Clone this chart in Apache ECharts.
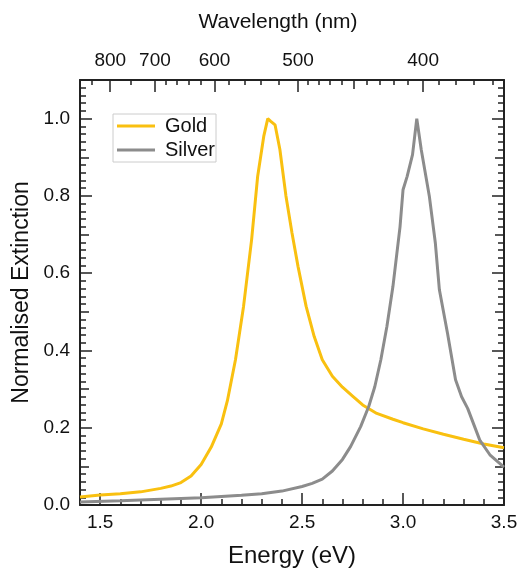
<!DOCTYPE html>
<html>
<head>
<meta charset="utf-8">
<script src="https://cdn.jsdelivr.net/npm/echarts@6/dist/echarts.min.js"></script>
<style>
  html, body { margin: 0; padding: 0; background: #fff; }
  #chart { width: 519px; height: 571px; }
</style>
</head>
<body>
<div id="chart"></div>
<script>
// values
const goldEnergy = [1.40, 1.50, 1.60, 1.70, 1.80, 1.85, 1.90, 1.95, 2.00, 2.05, 2.10, 2.13, 2.17, 2.21, 2.25, 2.28, 2.31, 2.33, 2.345, 2.366, 2.39, 2.42, 2.45, 2.48, 2.52, 2.56, 2.60, 2.65, 2.70, 2.75, 2.80, 2.87, 2.95, 3.00, 3.10, 3.20, 3.30, 3.40, 3.50];
const goldValue = [0.021, 0.026, 0.029, 0.034, 0.043, 0.049, 0.058, 0.075, 0.105, 0.15, 0.21, 0.27, 0.376, 0.514, 0.687, 0.851, 0.954, 1.0, 0.993, 0.984, 0.92, 0.80, 0.704, 0.617, 0.514, 0.436, 0.376, 0.333, 0.305, 0.282, 0.259, 0.237, 0.222, 0.213, 0.197, 0.183, 0.170, 0.158, 0.148];

const silverEnergy = [1.40, 1.60, 1.80, 2.00, 2.20, 2.30, 2.40, 2.50, 2.55, 2.60, 2.65, 2.70, 2.74, 2.79, 2.83, 2.86, 2.89, 2.92, 2.95, 2.985, 3.00, 3.02, 3.047, 3.068, 3.09, 3.13, 3.16, 3.18, 3.22, 3.26, 3.29, 3.32, 3.38, 3.43, 3.50];
const silverValue = [0.008, 0.011, 0.015, 0.019, 0.025, 0.029, 0.036, 0.048, 0.056, 0.067, 0.088, 0.118, 0.151, 0.203, 0.255, 0.306, 0.376, 0.462, 0.566, 0.72, 0.816, 0.85, 0.907, 1.0, 0.92, 0.80, 0.678, 0.557, 0.445, 0.324, 0.28, 0.25, 0.168, 0.13, 0.098];

// tick labels
const energyTicks = [1.5, 2.0, 2.5, 3.0, 3.5];
const energyMinorTicks = [1.4, 1.5, 1.6, 1.7, 1.8, 1.9, 2.0, 2.1, 2.2, 2.3, 2.4, 2.5, 2.6, 2.7, 2.8, 2.9, 3.0, 3.1, 3.2, 3.3, 3.4, 3.5];
const wavelengthTicks = [800, 700, 600, 500, 400];
const wavelengthMedium = [450];
const wavelengthMinor = [850, 750, 680, 660, 640, 620, 580, 560, 540, 520, 490, 480, 470, 460, 440, 430, 420, 410, 390, 380, 370, 360];
const extinctionTicks = [0, 0.2, 0.4, 0.6, 0.8, 1.0];
const extinctionMedium = [0.1, 0.3, 0.5, 0.7, 0.9];

const HC = 1239.84; // eV*nm
const toEnergy = nm => HC / nm;
const extinctionMinor = [];
for (let i = 0; i <= 55; i++) extinctionMinor.push(Math.round(i * 2) / 100);

const FONT = 'Liberation Sans';
const AXIS_COLOR = '#222';
const X_MIN = 1.4, X_MAX = 3.5, Y_MIN = 0, Y_MAX = 1.1;

function ticks(values, len) {
  return { show: true, inside: true, length: len, customValues: values, lineStyle: { color: AXIS_COLOR, width: 1.5 } };
}

// extra axis that only adds a row of ticks of another length
function tickOnly(position, values, len, min, max) {
  return {
    type: 'value', position: position, min: min, max: max,
    axisLine: { show: false, onZero: false },
    axisLabel: { show: false },
    splitLine: { show: false },
    axisTick: ticks(values, len)
  };
}

const chart = echarts.init(document.getElementById('chart'));
chart.setOption({
  animation: false,
  backgroundColor: '#fff',
  textStyle: { fontFamily: FONT },
  grid: { left: 80, right: 15, top: 80, bottom: 66, outerBoundsMode: 'none' },
  legend: {
    left: 113, top: 114, orient: 'vertical',
    icon: 'rect', itemWidth: 38, itemHeight: 3, itemGap: 4,
    borderColor: '#ccc', borderWidth: 1, padding: [2, 1, 2, 4],
    textStyle: { fontFamily: FONT, fontSize: 20, color: '#111', padding: [0, 0, 0, 5] },
    data: ['Gold', 'Silver']
  },
  xAxis: [
    {
      type: 'value', position: 'bottom', min: X_MIN, max: X_MAX,
      name: 'Energy (eV)', nameLocation: 'middle', nameGap: 39,
      nameTextStyle: { fontFamily: FONT, fontSize: 24, color: '#111' },
      axisLine: { show: true, onZero: false, lineStyle: { color: AXIS_COLOR, width: 2 } },
      axisTick: ticks(energyTicks, 12),
      axisLabel: { customValues: energyTicks, margin: 8, fontFamily: FONT, fontSize: 19, color: '#111',
        formatter: v => v.toFixed(1) },
      splitLine: { show: false }
    },
    tickOnly('bottom', energyMinorTicks, 6, X_MIN, X_MAX),
    {
      type: 'value', position: 'top', min: X_MIN, max: X_MAX,
      name: 'Wavelength (nm)', nameLocation: 'middle', nameGap: 47,
      nameTextStyle: { fontFamily: FONT, fontSize: 21, color: '#111', padding: [0, 28, 0, 0] },
      axisLine: { show: true, onZero: false, lineStyle: { color: AXIS_COLOR, width: 2 } },
      axisTick: ticks(wavelengthTicks.map(toEnergy), 12),
      axisLabel: { customValues: wavelengthTicks.map(toEnergy), margin: 10, fontFamily: FONT, fontSize: 19, color: '#111',
        formatter: v => String(Math.round(HC / v)) },
      splitLine: { show: false }
    },
    tickOnly('top', wavelengthMedium.map(toEnergy), 9, X_MIN, X_MAX),
    tickOnly('top', wavelengthMinor.map(toEnergy), 5, X_MIN, X_MAX)
  ],
  yAxis: [
    {
      type: 'value', position: 'left', min: Y_MIN, max: Y_MAX,
      name: 'Normalised Extinction', nameLocation: 'middle', nameGap: 46,
      nameTextStyle: { fontFamily: FONT, fontSize: 23, color: '#111' },
      axisLine: { show: true, onZero: false, lineStyle: { color: AXIS_COLOR, width: 2 } },
      axisTick: ticks(extinctionTicks, 12),
      axisLabel: { customValues: extinctionTicks, margin: 10, fontFamily: FONT, fontSize: 19, color: '#111',
        formatter: v => v.toFixed(1) },
      splitLine: { show: false }
    },
    tickOnly('left', extinctionMedium, 9, Y_MIN, Y_MAX),
    tickOnly('left', extinctionMinor, 6, Y_MIN, Y_MAX),
    {
      type: 'value', position: 'right', min: Y_MIN, max: Y_MAX,
      axisLine: { show: true, onZero: false, lineStyle: { color: AXIS_COLOR, width: 2 } },
      axisTick: ticks(extinctionTicks, 12),
      axisLabel: { show: false },
      splitLine: { show: false }
    },
    tickOnly('right', extinctionMedium, 9, Y_MIN, Y_MAX),
    tickOnly('right', extinctionMinor, 6, Y_MIN, Y_MAX)
  ],
  series: [
    {
      name: 'Gold', type: 'line', xAxisIndex: 0, yAxisIndex: 0,
      showSymbol: false, symbol: 'none',
      data: goldEnergy.map((e, i) => [e, goldValue[i]]),
      lineStyle: { color: '#F9C010', width: 3 }, itemStyle: { color: '#F9C010' }
    },
    {
      name: 'Silver', type: 'line', xAxisIndex: 0, yAxisIndex: 0,
      showSymbol: false, symbol: 'none',
      data: silverEnergy.map((e, i) => [e, silverValue[i]]),
      lineStyle: { color: '#8C8C8C', width: 3 }, itemStyle: { color: '#8C8C8C' }
    }
  ]
});
</script>
</body>
</html>
